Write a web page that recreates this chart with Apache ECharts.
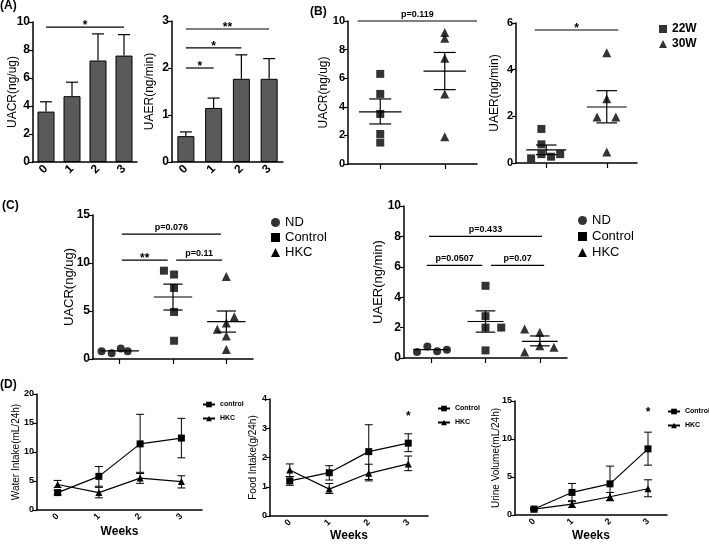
<!DOCTYPE html>
<html><head><meta charset="utf-8">
<script src="https://cdn.jsdelivr.net/npm/echarts@6/dist/echarts.min.js"></script>
<style>html,body{margin:0;padding:0;background:#fff}#c{width:709px;height:545px}</style>
</head><body><div id="c"></div><script>
// ---------------- DATA ----------------
const weekCats = ['0', '1', '2', '3'];
// (A) bar charts
const aUacrMean = [3.6, 4.7, 7.25, 7.6];
const aUacrTop  = [4.3, 5.7, 9.15, 9.1];
const aUaerMean = [0.55, 1.15, 1.77, 1.77];
const aUaerTop  = [0.64, 1.36, 2.28, 2.2];
const aUacrSig = [[0, 3, 9.64]];
const aUacrSigText = ['*'];
const aUaerSig = [[0, 3, 2.83], [0, 2, 2.43], [0, 1, 2.0]];
const aUaerSigText = ['**', '*', '*'];
// (B) scatter 22W vs 30W  [x position (group index + spread), value]
const ageCats = ['22W', '30W'];
const bUacr22 = [[0, 6.3], [0, 4.9], [0, 3.5], [0, 2.1], [0, 1.5]];
const bUacr30 = [[1, 9.2], [1, 8.8], [1, 7.4], [1, 4.9], [1, 1.9]];
const bUacrStats = [[0, 3.64, 4.55, 2.8], [1, 6.5, 7.8, 5.2]]; // [group, mean, mean+SEM, mean-SEM]
const bUacrSig = [[-0.35, 1.5, 10.0]];
const bUacrSigText = ['p=0.119'];
const bUaer22 = [[-0.08, 1.46], [-0.08, 0.8], [-0.08, 0.38], [0.08, 0.27], [0.23, 0.38], [-0.25, 0.2]];
const bUaer30 = [[1, 4.72], [1, 2.75], [0.84, 1.97], [1.15, 1.97], [1, 0.47]];
const bUaerStats = [[0, 0.56, 0.77, 0.36], [1, 2.4, 3.1, 1.72]];
const bUaerSig = [[-0.19, 1.19, 5.7]];
const bUaerSigText = ['*'];
// (C) scatter ND / Control / HKC
const groupCats = ['ND', 'Control', 'HKC'];
const cUacrND  = [[-0.34, 0.8], [-0.15, 0.6], [0.02, 1.1], [0.15, 0.8]];
const cUacrCtl = [[0.83, 9.2], [1.02, 8.8], [1.02, 7.4], [1.02, 4.9], [1.02, 1.9]];
const cUacrHKC = [[2, 8.6], [2.15, 4.4], [2, 3.75], [1.83, 3.1], [2, 2.4], [2, 1.0]];
const cUacrStats = [[0, 0.85, 0.85, 0.85], [1, 6.46, 7.8, 5.1], [2, 3.9, 5.0, 2.8]];
const cUacrSig = [[0.04, 1.9, 13.0], [0.04, 0.9, 10.3], [1.06, 1.92, 10.3]];
const cUacrSigText = ['p=0.076', '**', 'p=0.11'];
const cUaerND  = [[-0.26, 0.4], [-0.07, 0.75], [0.11, 0.45], [0.29, 0.55]];
const cUaerCtl = [[1, 4.75], [1, 2.75], [1, 2.0], [1.29, 2.0], [1, 0.5]];
const cUaerHKC = [[1.72, 1.9], [2, 1.7], [2, 0.8], [1.72, 0.4], [2.26, 0.7]];
const cUaerStats = [[0, 0.55, 0.55, 0.55], [1, 2.4, 3.1, 1.7], [2, 1.1, 1.45, 0.8]];
const cUaerSig = [[-0.04, 2.04, 8.0], [-0.08, 0.94, 6.1], [1.1, 2.08, 6.1]];
const cUaerSigText = ['p=0.433', 'p=0.0507', 'p=0.07'];
// (D) time courses
const waterCtl   = [3.0, 5.8, 11.4, 12.4];
const waterCtlHi = [3.4, 7.5, 16.5, 15.8];
const waterCtlLo = [2.6, 4.1, 6.5, 9.0];
const waterHKC   = [4.4, 3.0, 5.5, 4.9];
const waterHKCHi = [5.1, 3.9, 6.3, 5.9];
const waterHKCLo = [3.9, 2.1, 4.6, 3.8];
const foodCtl   = [1.2, 1.48, 2.2, 2.49];
const foodCtlHi = [1.35, 1.72, 3.12, 2.81];
const foodCtlLo = [1.05, 1.23, 1.25, 2.2];
const foodHKC   = [1.57, 0.92, 1.46, 1.78];
const foodHKCHi = [1.78, 1.11, 1.77, 2.05];
const foodHKCLo = [1.35, 0.77, 1.2, 1.55];
const foodStar = [[3, 3.4]];
const urineCtl   = [0.78, 2.97, 4.1, 8.7];
const urineCtlHi = [0.9, 4.15, 6.43, 10.9];
const urineCtlLo = [0.65, 1.75, 1.9, 6.56];
const urineHKC   = [0.78, 1.44, 2.4, 3.45];
const urineHKCHi = [0.9, 1.88, 2.97, 4.63];
const urineHKCLo = [0.65, 1.0, 1.88, 2.4];
const urineStar = [[3, 13.4]];

// ---------------- HELPERS ----------------
const F = '"Liberation Sans", Arial, Helvetica, sans-serif';
const K = '#000';
function yAx(grid, min, max, interval, name, gap, fs, nfs) {
  return {
    type: 'value', gridIndex: grid, min, max, interval, name, nameLocation: 'middle', nameGap: gap, nameRotate: 90,
    nameMoveOverlap: false,
    nameTextStyle: { fontFamily: F, fontSize: nfs, color: K },
    axisLine: { show: true, onZero: false, lineStyle: { color: K, width: 1.5 } },
    axisTick: { show: true, length: 4, lineStyle: { color: K, width: 1.2 } },
    axisLabel: { fontFamily: F, fontSize: fs, fontWeight: 'bold', color: K, margin: 3 },
    splitLine: { show: false }
  };
}
function xCat(grid, data, fs, name, gap) {
  return {
    type: 'category', gridIndex: grid, data, boundaryGap: true,
    nameMoveOverlap: false,
    axisLine: { onZero: false, lineStyle: { color: K, width: 1.5 } },
    axisTick: { alignWithLabel: true, length: 4, lineStyle: { color: K, width: 1.2 } },
    axisLabel: { rotate: 45, fontFamily: F, fontSize: fs, fontWeight: 'bold', color: K, margin: 5 },
    name: name || '', nameLocation: 'middle', nameGap: gap || 0,
    nameTextStyle: { fontFamily: F, fontSize: 12, fontWeight: 'bold', color: K }
  };
}
function xVal(grid, cats) {
  const pos = cats.map((c, i) => i);
  return {
    type: 'value', gridIndex: grid, min: -0.5, max: cats.length - 0.5,
    axisLine: { onZero: false, lineStyle: { color: K, width: 1.5 } },
    axisTick: { show: true, length: 5, customValues: pos, lineStyle: { color: K, width: 1.2 } },
    axisLabel: { show: true, customValues: pos, formatter: () => '' }, splitLine: { show: false }
  };
}
function ln(x1, y1, x2, y2, w) {
  return { type: 'line', shape: { x1, y1, x2, y2 }, style: { stroke: K, lineWidth: w || 1.2 } };
}
// upper-only error bar for bars: [i, top, mean]
function barErr(xi, yi, data) {
  return {
    type: 'custom', xAxisIndex: xi, yAxisIndex: yi, data, z: 5,
    renderItem: (p, api) => {
      const t = api.coord([api.value(0), api.value(1)]);
      const b = api.coord([api.value(0), api.value(2)]);
      return { type: 'group', children: [ln(t[0], b[1], t[0], t[1]), ln(t[0] - 6, t[1], t[0] + 6, t[1])] };
    }
  };
}
// two-sided error bar: [i, hi, lo]
function errBar(xi, yi, data) {
  return {
    type: 'custom', xAxisIndex: xi, yAxisIndex: yi, data, z: 1,
    renderItem: (p, api) => {
      const t = api.coord([api.value(0), api.value(1)]);
      const b = api.coord([api.value(0), api.value(2)]);
      return { type: 'group', children: [ln(t[0], t[1], t[0], b[1], 1), ln(t[0] - 4, t[1], t[0] + 4, t[1], 1), ln(t[0] - 4, b[1], t[0] + 4, b[1], 1)] };
    }
  };
}
// mean +- SEM: [x, mean, hi, lo]
function meanSem(xi, yi, data, hwM, hwC) {
  return {
    type: 'custom', xAxisIndex: xi, yAxisIndex: yi, data, z: 3,
    renderItem: (p, api) => {
      const x = api.value(0);
      const m1 = api.coord([x - hwM, api.value(1)]), m2 = api.coord([x + hwM, api.value(1)]);
      const h1 = api.coord([x - hwC, api.value(2)]), h2 = api.coord([x + hwC, api.value(2)]);
      const l1 = api.coord([x - hwC, api.value(3)]), l2 = api.coord([x + hwC, api.value(3)]);
      const c = api.coord([x, 0]);
      const ch = [ln(m1[0], m1[1], m2[0], m2[1])];
      if (api.value(2) !== api.value(3)) {
        ch.push(ln(h1[0], h1[1], h2[0], h2[1]), ln(l1[0], l1[1], l2[0], l2[1]), ln(c[0], h1[1], c[0], l1[1]));
      }
      return { type: 'group', children: ch };
    }
  };
}
// significance bar: [x1, x2, y]
function sig(xi, yi, data, texts) {
  return {
    type: 'custom', xAxisIndex: xi, yAxisIndex: yi, data, z: 4,
    renderItem: (p, api) => {
      const a = api.coord([api.value(0), api.value(2)]);
      const b = api.coord([api.value(1), api.value(2)]);
      const t = texts[p.dataIndex];
      const star = t.indexOf('*') >= 0;
      return { type: 'group', children: [ln(a[0], a[1], b[0], b[1]),
        { type: 'text', style: { text: t, x: (a[0] + b[0]) / 2, y: a[1] + (star ? 5 : -2), align: 'center', verticalAlign: 'bottom',
          fontFamily: F, fontSize: star ? 12 : 9, fontWeight: 'bold', fill: K } }] };
    }
  };
}
function starText(xi, yi, data) {
  return {
    type: 'custom', xAxisIndex: xi, yAxisIndex: yi, data,
    renderItem: (p, api) => {
      const c = api.coord([api.value(0), api.value(1)]);
      return { type: 'text', style: { text: '*', x: c[0], y: c[1], align: 'center', verticalAlign: 'middle', fontFamily: F, fontSize: 12, fontWeight: 'bold', fill: K } };
    }
  };
}
function pts(name, xi, yi, data, symbol, size) {
  return { type: 'scatter', name, xAxisIndex: xi, yAxisIndex: yi, data, symbol, symbolSize: size, itemStyle: { color: K }, z: 2 };
}
function line(name, xi, yi, data, symbol) {
  return { type: 'line', name, xAxisIndex: xi, yAxisIndex: yi, data, symbol, symbolSize: 7, showSymbol: true,
    lineStyle: { color: K, width: 1.2 }, itemStyle: { color: K }, z: 3 };
}
const zip3 = (a, b) => a.map((v, i) => [i, v, b[i]]);

// ---------------- OPTION ----------------
const legendText = (fs, w) => ({ fontFamily: F, fontSize: fs, fontWeight: w, color: K });
const option = {
  animation: false,
  backgroundColor: '#fff',
  title: [
    { text: '(A)', left: 0, top: 0 }, { text: '(B)', left: 310, top: 6 },
    { text: '(C)', left: 2, top: 200 }, { text: '(D)', left: 0, top: 379 }
  ].map(t => Object.assign(t, { padding: 0, textStyle: { fontFamily: F, fontSize: 12, fontWeight: 'bold', color: K } })),
  grid: [
    { left: 33, top: 22, width: 104, height: 140 },
    { left: 172, top: 21, width: 111, height: 141 },
    { left: 348, top: 21, width: 129, height: 143 },
    { left: 516, top: 23, width: 121, height: 140 },
    { left: 93, top: 215, width: 160, height: 144 },
    { left: 404, top: 206, width: 163, height: 152 },
    { left: 37, top: 394, width: 165, height: 116 },
    { left: 270, top: 399, width: 158, height: 117 },
    { left: 515, top: 401, width: 152, height: 114 }
  ],
  xAxis: [
    xCat(0, weekCats, 12), xCat(1, weekCats, 12),
    xVal(2, ageCats), xVal(3, ageCats),
    xVal(4, groupCats), xVal(5, groupCats),
    xCat(6, weekCats, 9, 'Weeks', 16), xCat(7, weekCats, 9, 'Weeks', 14), xCat(8, weekCats, 9, 'Weeks', 15)
  ],
  yAxis: [
    yAx(0, 0, 10, 2, 'UACR(ng/ug)', 14, 12, 12),
    yAx(1, 0, 3, 1, 'UAER(ng/min)', 16, 12, 12),
    yAx(2, 0, 10, 2, 'UACR(ng/ug)', 18, 11, 12),
    yAx(3, 0, 6, 2, 'UAER(ng/min)', 15, 11, 12),
    yAx(4, 0, 15, 5, 'UACR(ng/ug)', 17, 12, 13),
    yAx(5, 0, 10, 2, 'UAER(ng/min)', 19, 12, 13),
    yAx(6, 0, 20, 5, 'Water Intake(mL/24h)', 16, 9, 10),
    yAx(7, 0, 4, 1, 'Food Intake(g/24h)', 12, 9, 10),
    yAx(8, 0, 15, 5, 'Urine Volume(mL/24h)', 14, 9, 10)
  ],
  legend: [
    { data: [{ name: '22W', icon: 'rect' }, { name: '30W', icon: 'triangle' }], orient: 'vertical', left: 654, top: 18,
      itemWidth: 8, itemHeight: 8, itemGap: 3, selectedMode: false, textStyle: legendText(12, 'bold') },
    { data: [{ name: 'ND', icon: 'circle' }, { name: 'Control', icon: 'rect' }, { name: 'HKC', icon: 'triangle' }], orient: 'vertical', left: 266, top: 211,
      itemWidth: 9, itemHeight: 9, itemGap: 2, selectedMode: false, textStyle: legendText(13, 'normal') },
    { data: [{ name: 'ND', icon: 'circle' }, { name: 'Control', icon: 'rect' }, { name: 'HKC', icon: 'triangle' }], orient: 'vertical', left: 573, top: 209,
      itemWidth: 9, itemHeight: 9, itemGap: 3, selectedMode: false, textStyle: legendText(13, 'normal') },
    { data: ['control', 'HKC'], orient: 'vertical', left: 197, top: 396, itemWidth: 12, itemHeight: 7, itemGap: 7, selectedMode: false, textStyle: legendText(7, 'bold') },
    { data: ['Control', 'HKC'], orient: 'vertical', left: 432, top: 400, itemWidth: 12, itemHeight: 7, itemGap: 7, selectedMode: false, textStyle: legendText(7, 'bold') },
    { data: ['Control', 'HKC'], orient: 'vertical', left: 662, top: 403, itemWidth: 12, itemHeight: 7, itemGap: 7, selectedMode: false, textStyle: legendText(7, 'bold') }
  ],
  series: [
    // D first (so legends find the line series)
    errBar(6, 6, zip3(waterCtlHi, waterCtlLo)), errBar(6, 6, zip3(waterHKCHi, waterHKCLo)),
    line('control', 6, 6, waterCtl, 'rect'), line('HKC', 6, 6, waterHKC, 'triangle'),
    errBar(7, 7, zip3(foodCtlHi, foodCtlLo)), errBar(7, 7, zip3(foodHKCHi, foodHKCLo)),
    line('Control', 7, 7, foodCtl, 'rect'), line('HKC', 7, 7, foodHKC, 'triangle'),
    starText(7, 7, foodStar),
    errBar(8, 8, zip3(urineCtlHi, urineCtlLo)), errBar(8, 8, zip3(urineHKCHi, urineHKCLo)),
    line('Control', 8, 8, urineCtl, 'rect'), line('HKC', 8, 8, urineHKC, 'triangle'),
    starText(8, 8, urineStar),
    // A
    { type: 'bar', xAxisIndex: 0, yAxisIndex: 0, data: aUacrMean, barWidth: 17, itemStyle: { color: '#5a5a5a', borderColor: K, borderWidth: 1 } },
    barErr(0, 0, aUacrMean.map((m, i) => [i, aUacrTop[i], m])),
    sig(0, 0, aUacrSig, aUacrSigText),
    { type: 'bar', xAxisIndex: 1, yAxisIndex: 1, data: aUaerMean, barWidth: 17, itemStyle: { color: '#5a5a5a', borderColor: K, borderWidth: 1 } },
    barErr(1, 1, aUaerMean.map((m, i) => [i, aUaerTop[i], m])),
    sig(1, 1, aUaerSig, aUaerSigText),
    // B
    pts('22W', 2, 2, bUacr22, 'rect', 8), pts('30W', 2, 2, bUacr30, 'triangle', 9),
    meanSem(2, 2, bUacrStats, 0.33, 0.17), sig(2, 2, bUacrSig, bUacrSigText),
    pts('22W', 3, 3, bUaer22, 'rect', 8), pts('30W', 3, 3, bUaer30, 'triangle', 9),
    meanSem(3, 3, bUaerStats, 0.33, 0.17), sig(3, 3, bUaerSig, bUaerSigText),
    // C
    pts('ND', 4, 4, cUacrND, 'circle', 8), pts('Control', 4, 4, cUacrCtl, 'rect', 8), pts('HKC', 4, 4, cUacrHKC, 'triangle', 9),
    meanSem(4, 4, cUacrStats, 0.36, 0.18), sig(4, 4, cUacrSig, cUacrSigText),
    pts('ND', 5, 5, cUaerND, 'circle', 8), pts('Control', 5, 5, cUaerCtl, 'rect', 8), pts('HKC', 5, 5, cUaerHKC, 'triangle', 9),
    meanSem(5, 5, cUaerStats, 0.33, 0.18), sig(5, 5, cUaerSig, cUaerSigText)
  ]
};
const chart = echarts.init(document.getElementById('c'), null, { renderer: 'canvas' });
chart.setOption(option);
</script></body></html>
